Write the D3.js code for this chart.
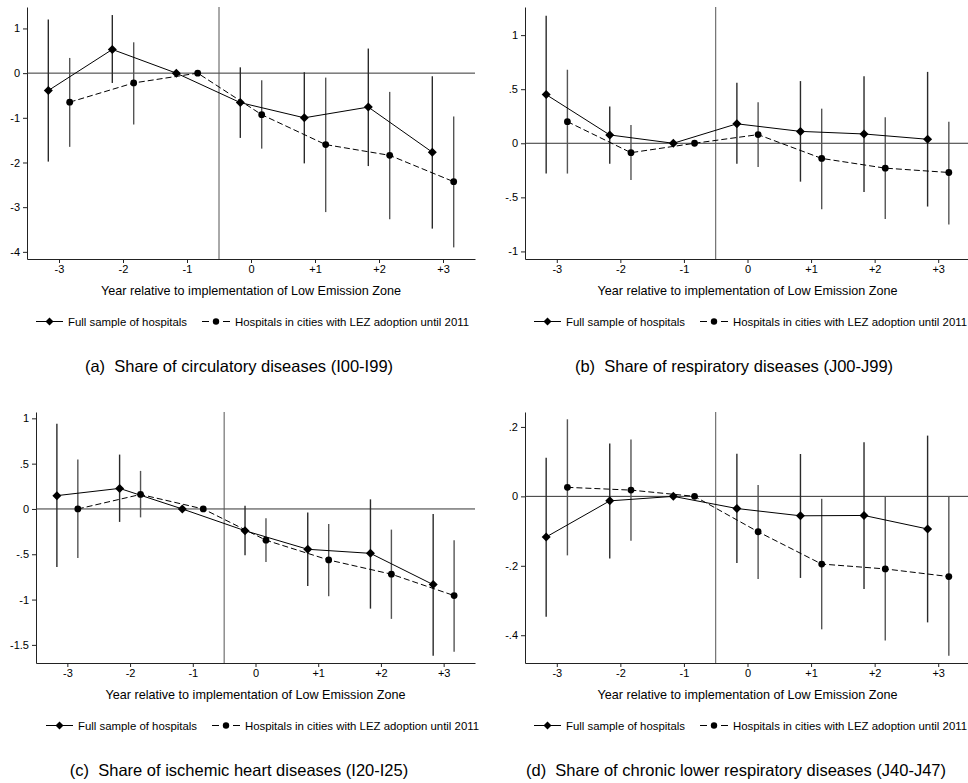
<!DOCTYPE html>
<html>
<head>
<meta charset="utf-8">
<script src="https://cdn.jsdelivr.net/npm/d3@7"></script>
<style>
  body { margin: 0; background: #fff; }
  svg { display: block; font-family: "Liberation Sans", Arial, sans-serif; }
  text { white-space: pre; }
</style>
</head>
<body>
<svg id="chart" width="968" height="783"></svg>
<script>
// event-study estimates, years relative to LEZ implementation (-1 = reference)
const years = [-3, -2, -1, 0, 1, 2, 3]
const yearLabels = ["-3", "-2", "-1", "0", "+1", "+2", "+3"]
const legendLabels = ["Full sample of hospitals", "Hospitals in cities with LEZ adoption until 2011"]
const xTitle = "Year relative to implementation of Low Emission Zone"

// (a) circulatory diseases
const aFull   = [-0.39, 0.53, 0, -0.66, -1.00, -0.76, -1.77]
const aFullLo = [-1.98, -0.22, null, -1.45, -2.02, -2.08, -3.48]
const aFullHi = [1.20, 1.30, null, 0.13, 0.02, 0.55, -0.07]
const aLez    = [-0.65, -0.22, 0, -0.93, -1.60, -1.84, -2.43]
const aLezLo  = [-1.65, -1.15, null, -1.69, -3.11, -3.27, -3.90]
const aLezHi  = [0.34, 0.69, null, -0.16, -0.10, -0.42, -0.97]
const aTicks  = [1, 0, -1, -2, -3, -4]

// (b) respiratory diseases
const bFull   = [0.45, 0.077, 0, 0.18, 0.11, 0.086, 0.037]
const bFullLo = [-0.28, -0.19, null, -0.19, -0.355, -0.45, -0.585]
const bFullHi = [1.18, 0.34, null, 0.56, 0.575, 0.62, 0.66]
const bLez    = [0.20, -0.087, 0, 0.08, -0.14, -0.23, -0.27]
const bLezLo  = [-0.28, -0.34, null, -0.22, -0.61, -0.70, -0.75]
const bLezHi  = [0.68, 0.17, null, 0.38, 0.32, 0.24, 0.20]
const bTicks  = [1, 0.5, 0, -0.5, -1]

// (c) ischemic heart diseases
const cFull   = [0.147, 0.227, 0, -0.24, -0.445, -0.49, -0.835]
const cFullLo = [-0.64, -0.143, null, -0.51, -0.85, -1.10, -1.62]
const cFullHi = [0.94, 0.60, null, 0.036, -0.04, 0.106, -0.055]
const cLez    = [0.0, 0.16, 0, -0.345, -0.563, -0.72, -0.956]
const cLezLo  = [-0.54, -0.093, null, -0.585, -0.963, -1.213, -1.577]
const cLezHi  = [0.545, 0.42, null, -0.103, -0.166, -0.228, -0.346]
const cTicks  = [1, 0.5, 0, -0.5, -1, -1.5]

// (d) chronic lower respiratory diseases
const dFull   = [-0.117, -0.013, 0, -0.035, -0.056, -0.055, -0.094]
const dFullLo = [-0.347, -0.179, null, -0.192, -0.235, -0.267, -0.363]
const dFullHi = [0.111, 0.152, null, 0.123, 0.122, 0.156, 0.175]
const dLez    = [0.026, 0.018, 0, -0.102, -0.195, -0.209, -0.231]
const dLezLo  = [-0.170, -0.128, null, -0.238, -0.383, -0.415, -0.459]
const dLezHi  = [0.222, 0.164, null, 0.033, -0.007, 0.0, 0.0]
const dTicks  = [0.2, 0, -0.2, -0.4]

const captions = [
  "(a)  Share of circulatory diseases (I00-I99)",
  "(b)  Share of respiratory diseases (J00-J99)",
  "(c)  Share of ischemic heart diseases (I20-I25)",
  "(d)  Share of chronic lower respiratory diseases (J40-J47)"
]

function series(est, lo, hi) {
  return years.map((y, i) => ({year: y, est: est[i], lo: lo[i], hi: hi[i]}))
}

const panels = [
  {box: [27, 475, 7, 259], yDomain: [-4.16, 1.48], ticks: aTicks,
   full: series(aFull, aFullLo, aFullHi), lez: series(aLez, aLezLo, aLezHi),
   caption: captions[0], capX: 239, legX: 36},
  {box: [525, 970, 7, 259], yDomain: [-1.07, 1.26], ticks: bTicks,
   full: series(bFull, bFullLo, bFullHi), lez: series(bLez, bLezLo, bLezHi),
   caption: captions[1], capX: 734, legX: 534},
  {box: [36, 475, 412, 663], yDomain: [-1.70, 1.07], ticks: cTicks,
   full: series(cFull, cFullLo, cFullHi), lez: series(cLez, cLezLo, cLezHi),
   caption: captions[2], capX: 239, legX: 46},
  {box: [525, 970, 412, 663], yDomain: [-0.48, 0.243], ticks: dTicks,
   full: series(dFull, dFullLo, dFullHi), lez: series(dLez, dLezLo, dLezHi),
   caption: captions[3], capX: 736, legX: 534}
]

const svg = d3.select("#chart")
const off = 0.167
const lineCol = "#222"
const fmt = d => d === 0 ? "0" : String(d).replace("0.", ".")

function diamond(sel, x, y, r) {
  sel.append("path")
    .attr("d", `M${x},${y - r}L${x + r},${y}L${x},${y + r}L${x - r},${y}Z`)
    .attr("fill", "#000")
}

function drawPanel(p) {
  const [x0, x1, y0, y1] = p.box
  const x = d3.scaleLinear().domain([-3.5, 3.5]).range([x0, x1])
  const y = d3.scaleLinear().domain(p.yDomain).range([y1, y0])
  const g = svg.append("g")

  // axes
  g.append("g")
    .attr("transform", `translate(0,${y1})`)
    .call(d3.axisBottom(x).tickValues(years).tickFormat((d, i) => yearLabels[i]).tickSize(4).tickPadding(2).tickSizeOuter(0))
  g.append("g")
    .attr("transform", `translate(${x0},0)`)
    .call(d3.axisLeft(y).tickValues(p.ticks).tickFormat(fmt).tickSize(4).tickPadding(3).tickSizeOuter(0))
  g.selectAll(".domain").attr("stroke", lineCol)
  g.selectAll(".tick line").attr("stroke", lineCol)
  g.selectAll(".tick text").attr("font-size", 11).attr("fill", "#000")
    .attr("font-family", "Liberation Sans, Arial, sans-serif")

  // reference lines
  g.append("line").attr("x1", x0).attr("x2", x1).attr("y1", y(0)).attr("y2", y(0))
    .attr("stroke", "#333").attr("stroke-width", 1)
  g.append("line").attr("x1", x(-0.5)).attr("x2", x(-0.5)).attr("y1", y0).attr("y2", y1)
    .attr("stroke", "#555").attr("stroke-width", 1)

  // confidence intervals
  const ci = (data, dx, col) => g.selectAll(null)
    .data(data.filter(d => d.lo !== null))
    .enter().append("line")
    .attr("x1", d => x(d.year + dx)).attr("x2", d => x(d.year + dx))
    .attr("y1", d => y(d.lo)).attr("y2", d => y(d.hi))
    .attr("stroke", col).attr("stroke-width", 1.4)
  ci(p.full, -off, "#2a2a2a")
  ci(p.lez, off, "#555")

  // connecting lines
  const line = dx => d3.line().x(d => x(d.year + dx)).y(d => y(d.est))
  g.append("path").datum(p.full).attr("d", line(-off))
    .attr("fill", "none").attr("stroke", "#000").attr("stroke-width", 1)
  g.append("path").datum(p.lez).attr("d", line(off))
    .attr("fill", "none").attr("stroke", "#000").attr("stroke-width", 1)
    .attr("stroke-dasharray", "6,3")

  // markers
  p.full.forEach(d => diamond(g, x(d.year - off), y(d.est), 4.5))
  g.selectAll(null).data(p.lez).enter().append("circle")
    .attr("cx", d => x(d.year + off)).attr("cy", d => y(d.est)).attr("r", 3.4)
    .attr("fill", "#000")

  // axis title
  g.append("text").attr("x", (x0 + x1) / 2).attr("y", y1 + 36)
    .attr("text-anchor", "middle").attr("font-size", 12.6).text(xTitle)

  // legend
  const ly = y1 + 62.5
  const lx = p.legX
  g.append("line").attr("x1", lx).attr("x2", lx + 27).attr("y1", ly).attr("y2", ly)
    .attr("stroke", "#000").attr("stroke-width", 1)
  diamond(g, lx + 13.5, ly, 4)
  g.append("text").attr("x", lx + 32).attr("y", ly + 4).attr("font-size", 11.4).text(legendLabels[0])
  const lx2 = lx + 166
  g.append("line").attr("x1", lx2).attr("x2", lx2 + 28).attr("y1", ly).attr("y2", ly)
    .attr("stroke", "#000").attr("stroke-width", 1).attr("stroke-dasharray", "7,14")
  g.append("circle").attr("cx", lx2 + 14).attr("cy", ly).attr("r", 3.2).attr("fill", "#000")
  g.append("text").attr("x", lx2 + 33).attr("y", ly + 4).attr("font-size", 11.4).text(legendLabels[1])

  // caption
  g.append("text").attr("x", p.capX).attr("y", y1 + 113)
    .attr("text-anchor", "middle").attr("font-size", 16.5).text(p.caption)
}

panels.forEach(drawPanel)
</script>
</body>
</html>
